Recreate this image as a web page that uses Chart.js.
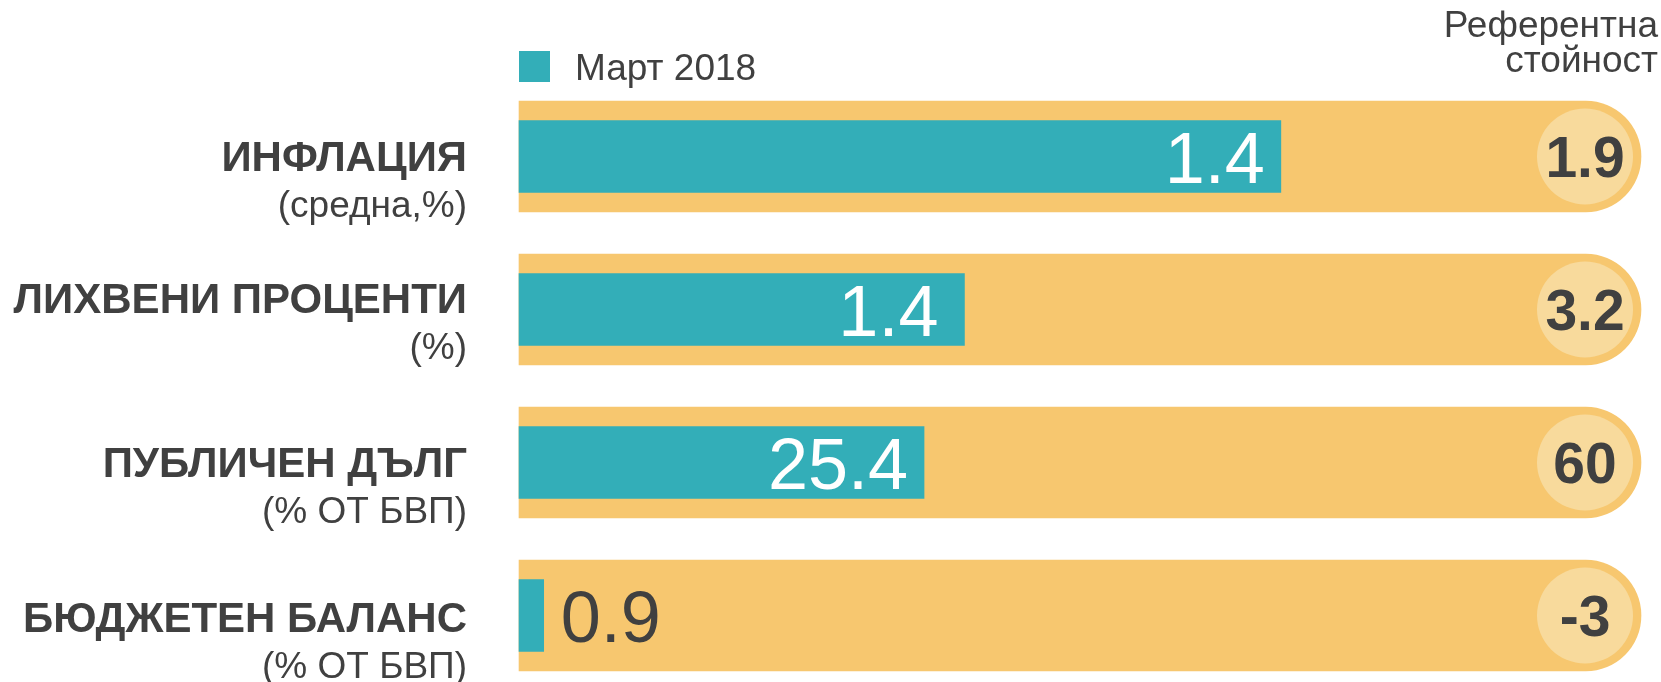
<!DOCTYPE html>
<html>
<head>
<meta charset="utf-8">
<script src="https://cdn.jsdelivr.net/npm/chart.js@4/dist/chart.umd.min.js"></script>
<style>
  html, body { margin: 0; padding: 0; background: #fff; }
  #wrap { width: 1661px; height: 682px; }
</style>
</head>
<body>
<div id="wrap"><canvas id="myChart" width="1661" height="682"></canvas></div>
<script>
// categories and their unit lines
const categories = ['ИНФЛАЦИЯ', 'ЛИХВЕНИ ПРОЦЕНТИ', 'ПУБЛИЧЕН ДЪЛГ', 'БЮДЖЕТЕН БАЛАНС'];
const units = ['(средна,%)', '(%)', '(% ОТ БВП)', '(% ОТ БВП)'];

// printed values
const march2018 = [1.4, 1.4, 25.4, 0.9];
const reference = [1.9, 3.2, 60, -3];

// bar lengths as drawn, in % of the full track
const barShare = [67.9, 39.7, 36.1, 2.2];
const track = [100, 100, 100, 100];

const seriesName = 'Март 2018';
const refTitle = ['Референтна', 'стойност'];

const TEAL = '#33aeb8';
const ORANGE = '#f7c76f';
const LIGHT = '#f8da9c';
const DARK = '#404040';
const FONT = '"Liberation Sans", Arial, sans-serif';

const overlay = {
  id: 'overlay',
  afterDatasetsDraw(chart) {
    const ctx = chart.ctx;
    const x = chart.scales.x;
    const y = chart.scales.y;
    const teal = chart.getDatasetMeta(0);
    const labelNudge = [0, -11, 0, 2];
    const valuePad = [16, 26, 16, 16];

    ctx.save();
    ctx.textBaseline = 'alphabetic';

    categories.forEach((name, i) => {
      const cy = y.getPixelForValue(i);

      // category labels on the left
      ctx.fillStyle = DARK;
      ctx.textAlign = 'right';
      ctx.font = 'bold 42px ' + FONT;
      ctx.fillText(name, 467, cy + 14.5 + labelNudge[i]);
      ctx.font = '37px ' + FONT;
      ctx.fillText(units[i], 467, cy + 60.5 + labelNudge[i]);

      // value on the teal bar
      const bar = teal.data[i];
      ctx.font = '72px ' + FONT;
      const txt = String(march2018[i]);
      const w = ctx.measureText(txt).width;
      if (bar.x - bar.base > w + 30) {
        ctx.fillStyle = '#fff';
        ctx.textAlign = 'right';
        ctx.fillText(txt, bar.x - valuePad[i], cy + 26);
      } else {
        ctx.fillStyle = DARK;
        ctx.textAlign = 'left';
        ctx.fillText(txt, bar.x + 17, cy + 26);
      }

      // reference circle at the end of the track
      const ex = x.getPixelForValue(track[i]) - 56;
      ctx.fillStyle = LIGHT;
      ctx.beginPath();
      ctx.arc(ex, cy, 48, 0, Math.PI * 2);
      ctx.fill();
      ctx.fillStyle = DARK;
      ctx.textAlign = 'center';
      ctx.font = 'bold 57px ' + FONT;
      ctx.fillText(String(reference[i]), ex, cy + 20);
    });

    // legend
    ctx.fillStyle = TEAL;
    ctx.fillRect(519, 51, 31, 31);
    ctx.fillStyle = DARK;
    ctx.textAlign = 'left';
    ctx.font = '37px ' + FONT;
    ctx.fillText(seriesName, 575, 80);

    // reference title
    ctx.textAlign = 'right';
    ctx.fillText(refTitle[0], 1658, 37);
    ctx.fillText(refTitle[1], 1658, 72);

    ctx.restore();
  }
};

const ctx = document.getElementById('myChart').getContext('2d');
new Chart(ctx, {
  type: 'bar',
  data: {
    labels: categories,
    datasets: [
      {
        label: seriesName,
        data: barShare,
        backgroundColor: TEAL,
        barThickness: 72,
        grouped: false,
        order: 0,
        clip: false
      },
      {
        label: 'track',
        data: track,
        backgroundColor: ORANGE,
        barThickness: 111,
        grouped: false,
        order: 1,
        clip: false,
        borderRadius: { topLeft: 0, bottomLeft: 0, topRight: 56, bottomRight: 56 },
        borderSkipped: false
      }
    ]
  },
  options: {
    indexAxis: 'y',
    responsive: false,
    animation: false,
    layout: { padding: { left: 519, right: 20, top: 156.5, bottom: 66.5 } },
    scales: {
      x: { display: false, min: 0, max: 100 },
      y: { display: false, offset: false }
    },
    plugins: {
      legend: { display: false },
      tooltip: { enabled: false }
    }
  },
  plugins: [overlay]
});
</script>
</body>
</html>
